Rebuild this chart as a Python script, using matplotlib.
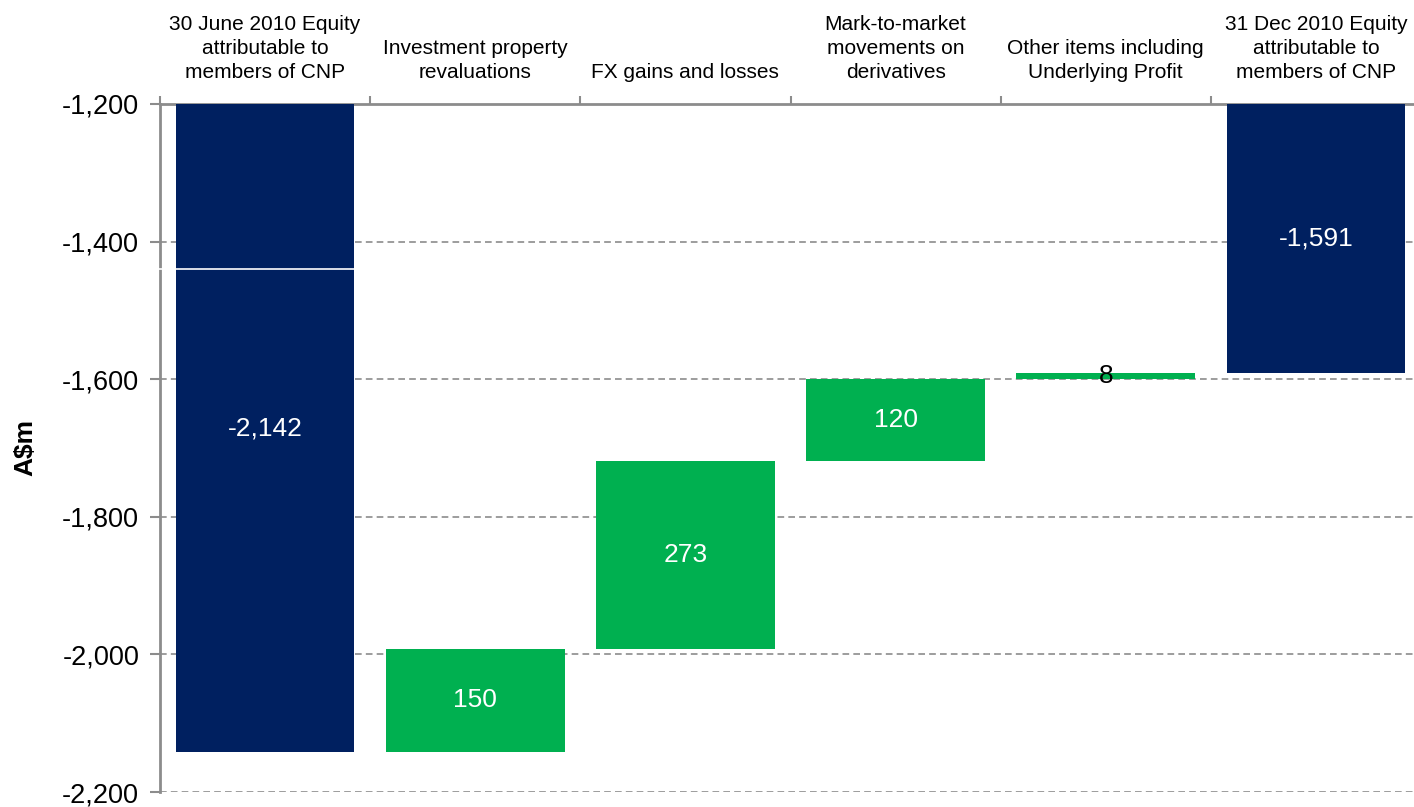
import matplotlib
matplotlib.use("Agg")
import matplotlib.pyplot as plt
from matplotlib.ticker import FuncFormatter

plt.rcParams['font.family'] = ['Liberation Sans', 'DejaVu Sans']

NAVY = '#002060'
GREEN = '#00B050'
GRID = '#8C8C8C'

categories = [
    "30 June 2010 Equity\nattributable to\nmembers of CNP",
    "Investment property\nrevaluations",
    "FX gains and losses",
    "Mark-to-market\nmovements on\nderivatives",
    "Other items including\nUnderlying Profit",
    "31 Dec 2010 Equity\nattributable to\nmembers of CNP",
]
opening = -2142
changes = [150, 273, 120, 8]
closing = -1591
y_ticks = [-2200, -2000, -1800, -1600, -1400, -1200]
y_top = -1200

fig = plt.figure(figsize=(14.14, 8.07), dpi=100)
ax = fig.add_axes([160 / 1414, 15 / 807, 1261 / 1414, 688 / 807])

width = 0.85
# totals hang from the top of the axis down to their value
ax.bar(0, y_top - opening, bottom=opening, width=width, color=NAVY, zorder=3)
ax.text(0, (y_top + opening) / 2, f"{opening:,}", color='white', fontsize=19,
        ha='center', va='center', zorder=4)

level = opening
for i, ch in enumerate(changes, start=1):
    ax.bar(i, ch, bottom=level, width=width, color=GREEN, zorder=3)
    mid = level + ch / 2
    col = 'black' if ch < 30 else 'white'
    ax.text(i, mid, f"{ch}", color=col, fontsize=19, ha='center', va='center', zorder=4)
    level += ch

last = len(categories) - 1
ax.bar(last, y_top - closing, bottom=closing, width=width, color=NAVY, zorder=3)
ax.text(last, (y_top + closing) / 2, f"{closing:,}", color='white', fontsize=19,
        ha='center', va='center', zorder=4)

# thin white break line across the first bar
ax.plot([-0.6, 0.425], [-1440, -1440], color='white', lw=1.2, zorder=5, clip_on=False)

ax.set_xlim(-0.5, len(categories) - 0.5)
ax.set_ylim(-2200, -1200)
ax.set_yticks(y_ticks)
ax.yaxis.set_major_formatter(FuncFormatter(lambda v, p: f"{int(v):,}"))
ax.tick_params(axis='y', labelsize=19.5, length=7, color=GRID, width=1.5, pad=8)

for y in y_ticks[:-1]:
    ax.axhline(y, color=GRID, lw=1.2, ls=(0, (4, 2.5)), zorder=1)

ax.xaxis.set_ticks_position('top')
ax.set_xticks([i + 0.5 for i in range(-1, len(categories))])
ax.set_xticklabels([])
ax.tick_params(axis='x', which='major', length=6, color=GRID, width=1.5)
ax.set_xticks(range(len(categories)), minor=True)
ax.set_xticklabels(categories, minor=True, fontsize=15, linespacing=1.32)
ax.tick_params(axis='x', which='minor', length=0, pad=16, labeltop=True, labelbottom=False)

for s in ['right', 'bottom']:
    ax.spines[s].set_visible(False)
for s in ['left', 'top']:
    ax.spines[s].set_color(GRID)
    ax.spines[s].set_linewidth(2)

ax.set_ylabel("A\\$m", fontsize=19, fontweight='bold')
ax.yaxis.set_label_coords(-0.097, 0.5)

fig.savefig("out.png", dpi=100)
